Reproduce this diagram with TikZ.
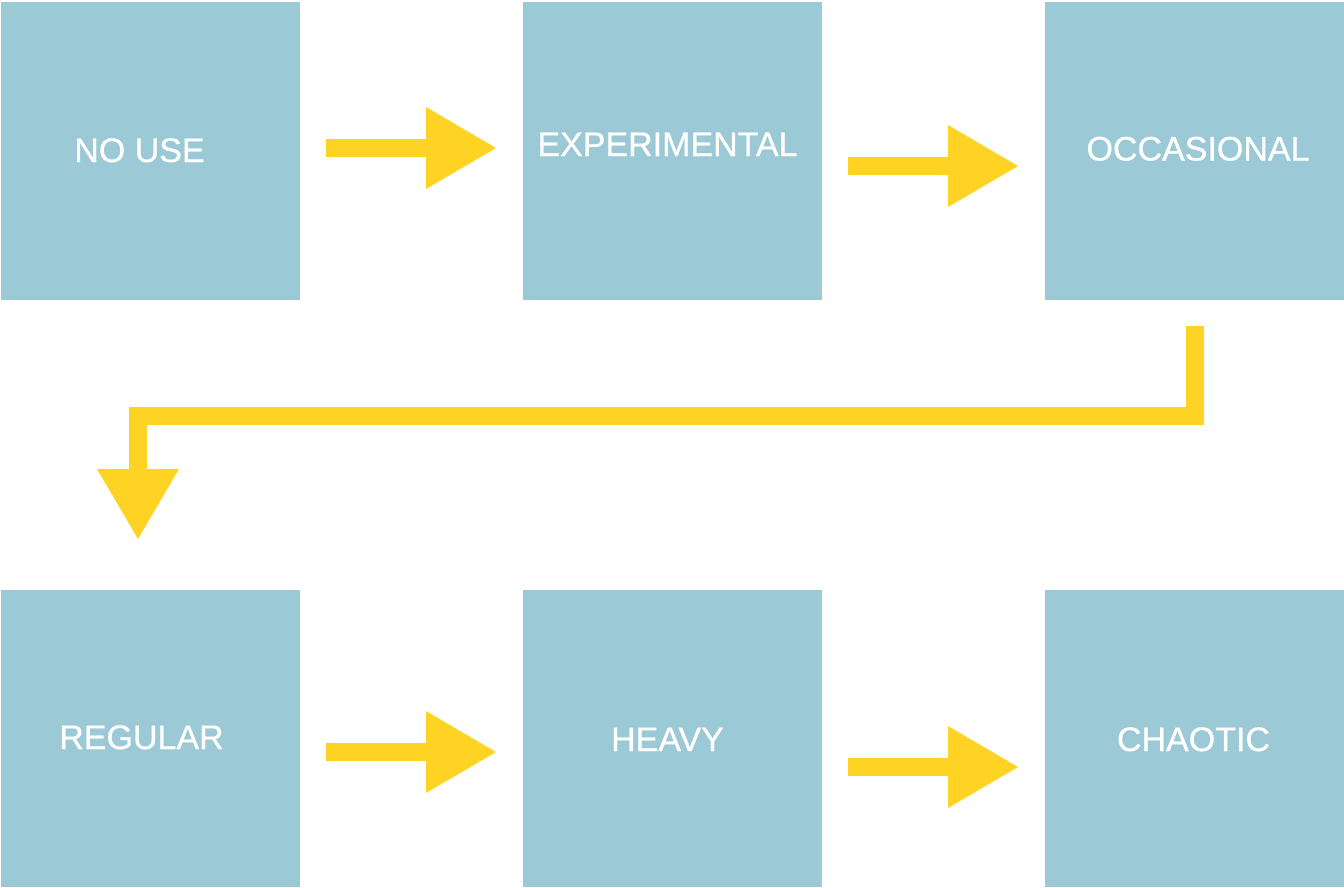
\documentclass[tikz,border=0pt]{standalone}
\usepackage{fontspec}
\setmainfont{Liberation Sans}
\newfontfamily\stagefont[FakeBold=0.7]{Liberation Sans}
\usetikzlibrary{arrows.meta,calc}
\definecolor{boxblue}{HTML}{9BC9D5}
\definecolor{flowyellow}{HTML}{FFD324}
\begin{document}
\begin{tikzpicture}[x=1pt,y=-1pt,
  stage/.style={fill=boxblue,draw=none,anchor=north west,inner sep=0pt,
    minimum width=299pt,minimum height=298pt},
  stagetext/.style={text=white,anchor=base,inner sep=0pt,
    font=\stagefont\fontsize{34}{40}\selectfont},
  flow/.style={draw=flowyellow,line width=18pt,line cap=butt,line join=miter,
    -{Triangle[length=70pt,width=82pt,line width=0pt,fill=flowyellow]}}]
  \useasboundingbox (0,0) rectangle (1344,887);
  % stage boxes
  \node[stage] (b1) at (1,2) {};
  \node[stage] (b2) at (523,2) {};
  \node[stage] (b3) at (1045,2) {};
  \node[stage,minimum height=297pt] (b4) at (1,590) {};
  \node[stage,minimum height=297pt] (b5) at (523,590) {};
  \node[stage,minimum height=297pt] (b6) at (1045,590) {};
  % stage labels
  \node[stagetext] (t1) at (139.5,162) {NO USE};
  \node[stagetext] (t2) at (667.5,156) {EXPERIMENTAL};
  \node[stagetext] (t3) at (1198,160.5) {OCCASIONAL};
  \node[stagetext] (t4) at (141.5,749) {REGULAR};
  \node[stagetext] (t5) at (667.5,751) {HEAVY};
  \node[stagetext] (t6) at (1193.5,751) {CHAOTIC};
  % connectors
  \draw[flow] ($(b1.north east)+(26,146)$) -- ($(b2.north west)+(-27,146)$);
  \draw[flow] ($(b2.north east)+(26,164)$) -- ($(b3.north west)+(-27,164)$);
  \draw[flow] ($(b4.north east)+(26,162)$) -- ($(b5.north west)+(-27,162)$);
  \draw[flow] ($(b5.north east)+(26,177)$) -- ($(b6.north west)+(-27,177)$);
  \coordinate (elbowtip) at (138,539);
  \coordinate (elbowstart) at (1195,326);
  \draw[flow] (elbowstart) -- (1195,416) -| (elbowtip);
\end{tikzpicture}
\end{document}
